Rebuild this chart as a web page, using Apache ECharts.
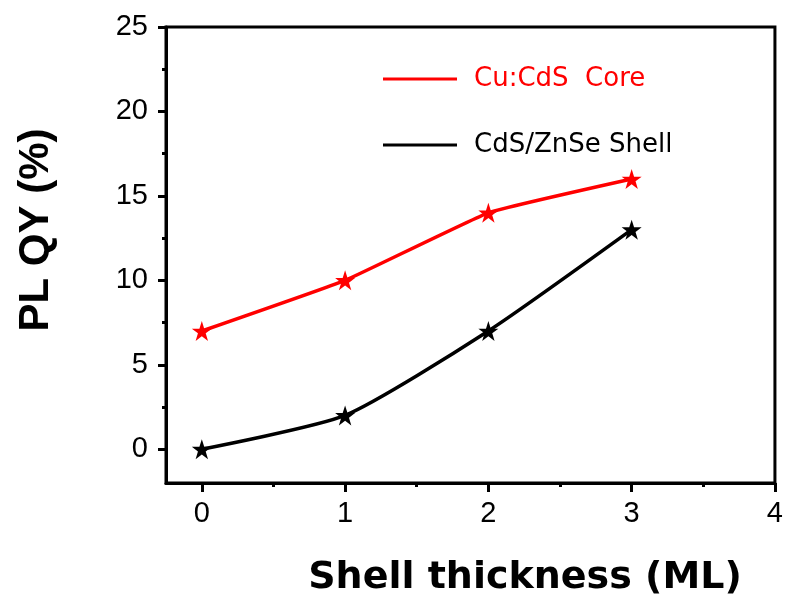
<!DOCTYPE html>
<html><head><meta charset="utf-8">
<script src="https://cdn.jsdelivr.net/npm/echarts@6/dist/echarts.min.js"></script>
<style>html,body{margin:0;padding:0;background:#fff}#c{width:786px;height:605px}</style>
</head><body><div id="c"></div>
<script>
var shellThickness = [0, 1, 2, 3];
var coreQY = [7, 10, 14, 16];
var shellQY = [0, 2, 7, 13];
var xTicks = [0, 1, 2, 3, 4];
var xMinorTicks = [0.5, 1.5, 2.5, 3.5];
var yTicks = [0, 5, 10, 15, 20, 25];
var yMinorTicks = [2.5, 7.5, 12.5, 17.5, 22.5];
var seriesNames = ['Cu:CdS  Core', 'CdS/ZnSe Shell'];

var star = 'path://M50,0 L61.8,35.4 L99,35.4 L69,57.3 L80.4,92.7 L50,70.8 L19.6,92.7 L31,57.3 L1,35.4 L38.2,35.4 Z';
function pairs(xs, ys){ return xs.map(function(x,i){ return [x, ys[i]]; }); }

var chart = echarts.init(document.getElementById('c'));
function labelFont(extra){
  return Object.assign({ fontFamily: 'Liberation Sans', fontSize: 29, color: '#000' }, extra);
}
chart.setOption({
  animation: false,
  backgroundColor: '#fff',
  grid: { left: 166, top: 27, right: 7, bottom: 122, show: true, borderColor: '#000', borderWidth: 3 },
  legend: {
    orient: 'vertical', left: 378, top: 61, itemGap: 40, itemWidth: 74, itemHeight: 3,
    icon: 'rect',
    textStyle: { fontFamily: 'DejaVu Sans', fontSize: 26, padding: [0,0,0,12] },
    data: [
      { name: seriesNames[0], textStyle: { color: '#ff0000' } },
      { name: seriesNames[1], textStyle: { color: '#000' } }
    ]
  },
  xAxis: [
    { type: 'value', min: -0.25, max: 4, position: 'bottom',
      axisLine: { onZero: false, lineStyle: { color: '#000', width: 3 } },
      axisTick: { customValues: xTicks, length: 9, lineStyle: { width: 3 } },
      axisLabel: labelFont({ customValues: xTicks, margin: 16 }),
      splitLine: { show: false } },
    { type: 'value', min: -0.25, max: 4, position: 'bottom',
      axisLine: { show: false, onZero: false },
      axisTick: { customValues: xMinorTicks, length: 4, lineStyle: { width: 3, color: '#000' } },
      axisLabel: { show: false }, splitLine: { show: false } }
  ],
  yAxis: [
    { type: 'value', min: -2, max: 25, position: 'left',
      axisLine: { show: true, onZero: false, lineStyle: { color: '#000', width: 3 } },
      axisTick: { show: true, customValues: yTicks, length: 8, lineStyle: { width: 3 } },
      axisLabel: labelFont({ customValues: yTicks, margin: 18 }),
      splitLine: { show: false } },
    { type: 'value', min: -2, max: 25, position: 'left',
      axisLine: { show: false, onZero: false },
      axisTick: { show: true, customValues: yMinorTicks, length: 4, lineStyle: { width: 3, color: '#000' } },
      axisLabel: { show: false }, splitLine: { show: false } }
  ],
  series: [
    { name: seriesNames[0], type: 'line', data: pairs(shellThickness, coreQY), smooth: 0.1,
      symbol: star, symbolSize: 20, color: '#ff0000',
      lineStyle: { color: '#ff0000', width: 3.5 }, itemStyle: { color: '#ff0000' } },
    { name: seriesNames[1], type: 'line', data: pairs(shellThickness, shellQY), smooth: 0.2,
      symbol: star, symbolSize: 20, color: '#000',
      lineStyle: { color: '#000', width: 3.5 }, itemStyle: { color: '#000' } }
  ],
  graphic: [
    { type: 'text', x: 36, y: 230, rotation: Math.PI / 2,
      style: { text: 'PL QY (%)', fill: '#000', font: 'bold 42px "Liberation Sans", Arial, sans-serif', align: 'center', verticalAlign: 'middle' } },
    { type: 'text', x: 525, y: 578,
      style: { text: 'Shell thickness (ML)', fill: '#000', font: 'bold 38px "DejaVu Sans", sans-serif', align: 'center', verticalAlign: 'middle' } }
  ]
});
</script></body></html>
